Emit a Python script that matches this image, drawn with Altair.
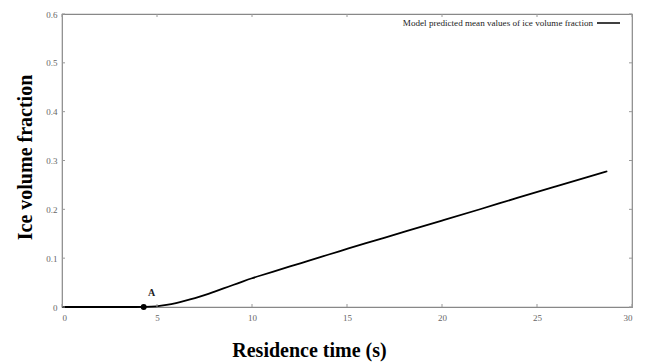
import altair as alt
import pandas as pd

time_s = [0, 1, 2, 3, 4, 4.3, 5, 5.5, 6, 6.5, 7, 7.5, 8, 8.5, 9, 9.5, 10, 10.5, 11,
          12, 13, 14, 15, 16, 17, 18, 20, 22, 24, 26, 28, 28.7]
ice_frac = [0, 0, 0, 0, 0, 0, 0.001, 0.004, 0.008, 0.013, 0.018, 0.024, 0.031, 0.038,
            0.045, 0.052, 0.059, 0.065, 0.071, 0.083, 0.095, 0.107, 0.119, 0.131,
            0.142, 0.154, 0.177, 0.200, 0.224, 0.247, 0.270, 0.278]
point_a_t = [4.3]
point_a_v = [0.0]
point_a_label = ["A"]
x_ticks = [0, 5, 10, 15, 20, 25, 30]
y_ticks = [0, 0.1, 0.2, 0.3, 0.4, 0.5, 0.6]
legend_label = "Model predicted mean values of ice volume fraction"

FONT = "Liberation Serif"
W, H = 570, 293

df = pd.DataFrame({"t": time_s, "v": ice_frac})
dfa = pd.DataFrame({"t": point_a_t, "v": point_a_v, "lab": point_a_label})
dfx = pd.DataFrame({"t": x_ticks})
dfy = pd.DataFrame({"v": y_ticks})

xs = alt.Scale(domain=[0, 30], nice=False)
ys = alt.Scale(domain=[0, 0.6], nice=False)

x_axis = alt.Axis(values=x_ticks, title="Residence time (s)", grid=False, ticks=False,
                  domain=False, labelFont=FONT, labelFontSize=9, labelColor="#666",
                  labelPadding=6, titleFont=FONT, titleFontSize=20, titleFontWeight="bold",
                  titleColor="black", titlePadding=18, titleX=247)
y_axis = alt.Axis(values=y_ticks, format="~g", title="Ice volume fraction", grid=False,
                  ticks=False, domain=False, labelFont=FONT, labelFontSize=9,
                  labelColor="#666", labelPadding=5, titleFont=FONT, titleFontSize=20,
                  titleFontWeight="bold", titleColor="black", titlePadding=10, titleY=143)

line = alt.Chart(df).mark_line(color="black", strokeWidth=1.8, interpolate="basis").encode(
    x=alt.X("t:Q", scale=xs, axis=x_axis),
    y=alt.Y("v:Q", scale=ys, axis=y_axis),
)

pt = alt.Chart(dfa).mark_point(filled=True, color="black", size=35, opacity=1).encode(
    x=alt.X("t:Q", scale=xs), y=alt.Y("v:Q", scale=ys))
lab = alt.Chart(dfa).mark_text(font=FONT, fontSize=10, fontWeight="bold", dx=8, dy=-14,
                               color="#222").encode(
    x=alt.X("t:Q", scale=xs), y=alt.Y("v:Q", scale=ys), text="lab:N")

xt_bot = alt.Chart(dfx).mark_rule(color="#999").encode(
    x=alt.X("t:Q", scale=xs), y=alt.value(H), y2=alt.value(H - 3))
xt_top = alt.Chart(dfx).mark_rule(color="#999").encode(
    x=alt.X("t:Q", scale=xs), y=alt.value(0), y2=alt.value(3))
yt_left = alt.Chart(dfy).mark_rule(color="#999").encode(
    y=alt.Y("v:Q", scale=ys), x=alt.value(0), x2=alt.value(3))
yt_right = alt.Chart(dfy).mark_rule(color="#999").encode(
    y=alt.Y("v:Q", scale=ys), x=alt.value(W), x2=alt.value(W - 3))

leg_text = alt.Chart(pd.DataFrame({"s": [legend_label]})).mark_text(
    font=FONT, fontSize=9.1, align="right", baseline="middle", color="#222").encode(
    x=alt.value(W - 39), y=alt.value(9), text="s:N")
leg_line = alt.Chart(pd.DataFrame({"s": [legend_label]})).mark_rule(
    color="black", strokeWidth=1.5).encode(
    x=alt.value(W - 35), x2=alt.value(W - 12), y=alt.value(9))

chart = alt.layer(line, xt_bot, xt_top, yt_left, yt_right, pt, lab, leg_text, leg_line).properties(
    width=W, height=H,
    autosize=alt.AutoSizeParams(type="none"),
    padding={"left": 62, "top": 14, "right": 13, "bottom": 56},
    background="white",
).configure_view(stroke="#888", strokeWidth=1.2)

chart.save("out.html", embed_options={"renderer": "svg", "actions": False})
